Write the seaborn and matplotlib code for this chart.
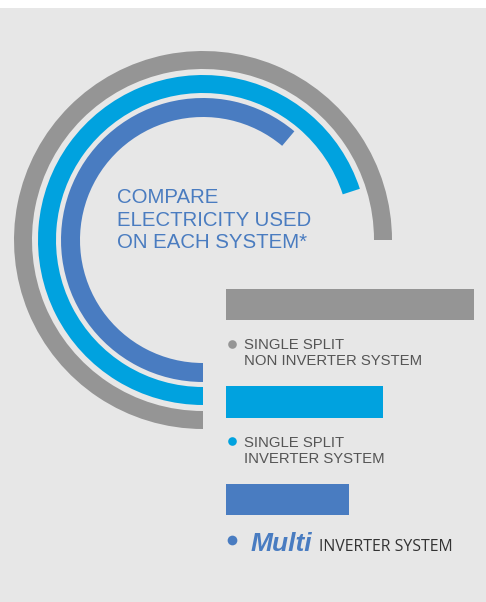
import matplotlib
matplotlib.use("Agg")
import matplotlib.pyplot as plt
from matplotlib.patches import Wedge
import pandas as pd
import seaborn as sns

# data
systems = ["non_inverter", "inverter", "multi"]
bar_values = [100, 63.5, 49.5]          # electricity used, relative
arc_values = [100, 93.3, 81.5]          # share of the 270 degree ring
colors = ["#959595", "#00a2df", "#497cc1"]
label_lines = [["SINGLE SPLIT", "NON INVERTER SYSTEM"],
               ["SINGLE SPLIT", "INVERTER SYSTEM"],
               ["Multi", "INVERTER SYSTEM"]]
title_lines = ["COMPARE", "ELECTRICITY USED", "ON EACH SYSTEM*"]

sns.set_style("white")
plt.rcParams['font.family'] = ['Liberation Sans', 'DejaVu Sans']

W, H = 486, 602
fig = plt.figure(figsize=(W / 100, H / 100), dpi=100, facecolor="white")

# background panel + ring, in pixel units
ax0 = fig.add_axes([0, 0, 1, 594 / H])
ax0.set_facecolor("#e7e7e7")
ax0.set_xlim(0, W)
ax0.set_ylim(0, 594)
for s in ax0.spines.values():
    s.set_visible(False)
ax0.set_xticks([])
ax0.set_yticks([])

cx, cy = 203, 362
rings = [(189, 18), (165, 18), (142, 19)]
for v, (r, w), c in zip(arc_values, rings, colors):
    ax0.add_patch(Wedge((cx, cy), r, 270 - 2.7 * v, 270, width=w, color=c, lw=0))

ax0.text(117, 382, "\n".join(title_lines), color="#4a7cc0", fontsize=14.7,
         va="center", ha="left", linespacing=1.22)

# horizontal bars
ax1 = fig.add_axes([226 / W, (H - 548.25) / H, 248 / W, 292.5 / H])
ax1.patch.set_alpha(0)
df = pd.DataFrame({"system": systems, "value": bar_values})
sns.barplot(data=df, x="value", y="system", hue="system", palette=colors,
            orient="h", width=0.318, legend=False, ax=ax1, saturation=1,
            linewidth=0, edgecolor="none")
ax1.set_xlim(0, 100)
ax1.set_ylim(2.5, -0.5)
ax1.axis("off")

for i, (lines, c) in enumerate(zip(label_lines, colors)):
    if i < 2:
        ax1.plot(2.4, i + 0.40, "o", color=c, ms=6.2, mec="none", clip_on=False)
        ax1.text(7.2, i + 0.50, "\n".join(lines), fontsize=10.7, color="#555555",
                 va="center", ha="left", linespacing=1.15, clip_on=False)
    else:
        ax1.plot(2.4, i + 0.415, "o", color=c, ms=7, mec="none", clip_on=False)
        ax1.text(9.7, i + 0.528, lines[0], fontsize=19, color=c, fontweight="bold",
                 fontstyle="italic", va="baseline", ha="left")
        ax1.text(37.5, i + 0.525, lines[1], fontsize=11.4, color="#333333",
                 family=["Open Sans", "DejaVu Sans"], va="baseline", ha="left")

plt.savefig("out.png", dpi=100, facecolor=fig.get_facecolor())
